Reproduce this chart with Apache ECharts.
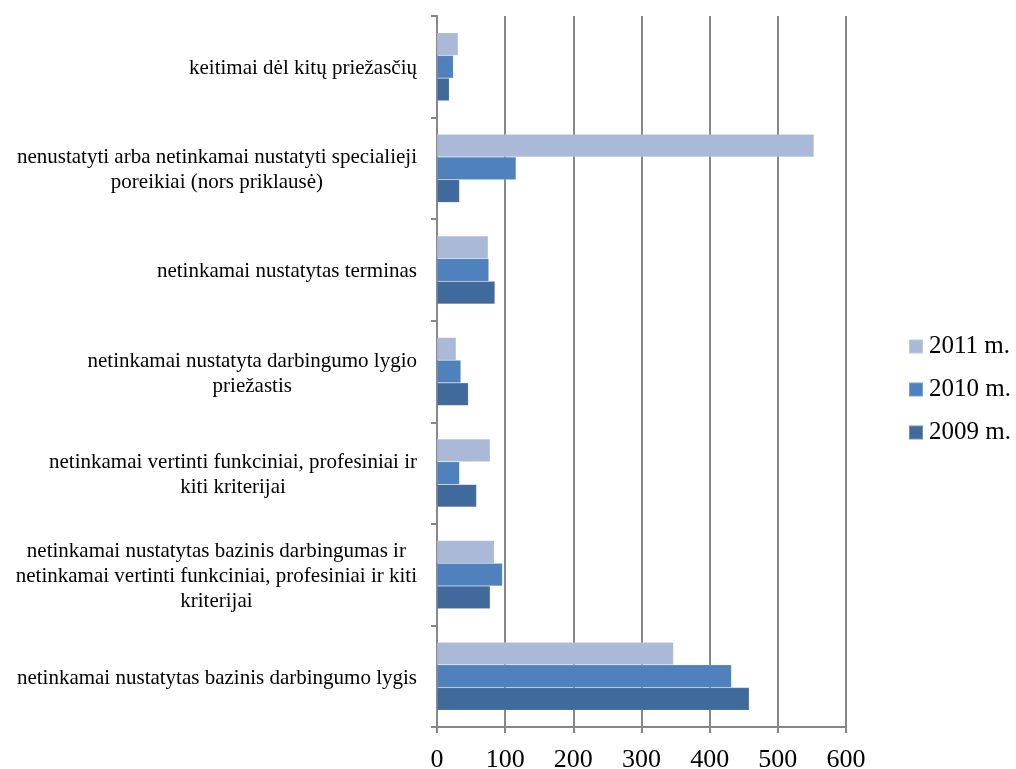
<!DOCTYPE html>
<html>
<head>
<meta charset="utf-8">
<title>Darbingumo lygio nustatymo klaidos</title>
<script src="https://cdn.jsdelivr.net/npm/echarts@6/dist/echarts.min.js"></script>
<style>
  html, body { margin: 0; padding: 0; background: #ffffff; }
  #chart { width: 1016px; height: 769px; }
</style>
</head>
<body>
<div id="chart"></div>
<script>
// Categories listed bottom-to-top as they appear on the vertical axis
const categories = [
  'netinkamai nustatytas bazinis darbingumo lygis',
  'netinkamai nustatytas bazinis darbingumas ir\nnetinkamai vertinti funkciniai, profesiniai ir kiti\nkriterijai',
  'netinkamai vertinti funkciniai, profesiniai ir\nkiti kriterijai',
  'netinkamai nustatyta darbingumo lygio\npriežastis',
  'netinkamai nustatytas terminas',
  'nenustatyti arba netinkamai nustatyti specialieji\nporeikiai (nors priklausė)',
  'keitimai dėl kitų priežasčių'
];

const years = ['2011 m.', '2010 m.', '2009 m.'];

const values2009 = [458, 78, 58, 46, 85, 33, 18];
const values2010 = [432, 96, 33, 35, 76, 116, 24];
const values2011 = [347, 84, 78, 28, 75, 553, 31];

const xTicks = { min: 0, max: 600, interval: 100 };

const seriesColors = {
  '2009 m.': '#406a9c',
  '2010 m.': '#4f81bd',
  '2011 m.': '#aab9d7'
};

const serif = '"Liberation Serif", "DejaVu Serif", serif';
const gridGray = '#878787';

const chart = echarts.init(document.getElementById('chart'), null, { renderer: 'canvas' });

function makeSeries(name, data) {
  return {
    name: name,
    type: 'bar',
    data: data,
    barGap: '0%',
    barCategoryGap: '33%',
    itemStyle: {
      color: seriesColors[name],
      borderColor: 'rgba(255,255,255,0.25)',
      borderWidth: 0.5
    }
  };
}

// Within each category the first series sits on top, so 2011 comes first
chart.setOption({
  backgroundColor: '#ffffff',
  animation: false,
  grid: { left: 437, right: 170, top: 16, bottom: 42, containLabel: false, outerBoundsMode: 'none' },
  legend: {
    orient: 'vertical',
    left: 908,
    top: 334,
    padding: 0,
    itemWidth: 14,
    itemHeight: 14,
    itemGap: 18,
    icon: 'rect',
    data: years,
    textStyle: { fontFamily: serif, fontSize: 25, color: '#000000', padding: [0, 0, 0, 1] }
  },
  xAxis: {
    type: 'value',
    min: xTicks.min,
    max: xTicks.max,
    interval: xTicks.interval,
    axisLine: { show: true, lineStyle: { color: gridGray, width: 2 } },
    axisTick: { show: true, length: 6, lineStyle: { color: gridGray, width: 2 } },
    splitLine: { show: true, lineStyle: { color: gridGray, width: 2 } },
    axisLabel: { fontFamily: serif, fontSize: 26, color: '#000000', margin: 20 }
  },
  yAxis: {
    type: 'category',
    data: categories,
    axisLine: { show: true, lineStyle: { color: gridGray, width: 2 } },
    axisTick: { show: true, length: 6, lineStyle: { color: gridGray, width: 2 } },
    axisLabel: {
      margin: 20,
      align: 'right',
      padding: [4, 0, 0, 0],
      formatter: function (value) {
        return value.split('\n').map(function (line) { return '{c|' + line + '}'; }).join('\n');
      },
      rich: {
        c: { fontFamily: serif, fontSize: 21, lineHeight: 25, color: '#000000', align: 'center' }
      }
    }
  },
  series: [
    makeSeries('2011 m.', values2011),
    makeSeries('2010 m.', values2010),
    makeSeries('2009 m.', values2009)
  ]
});
</script>
</body>
</html>
